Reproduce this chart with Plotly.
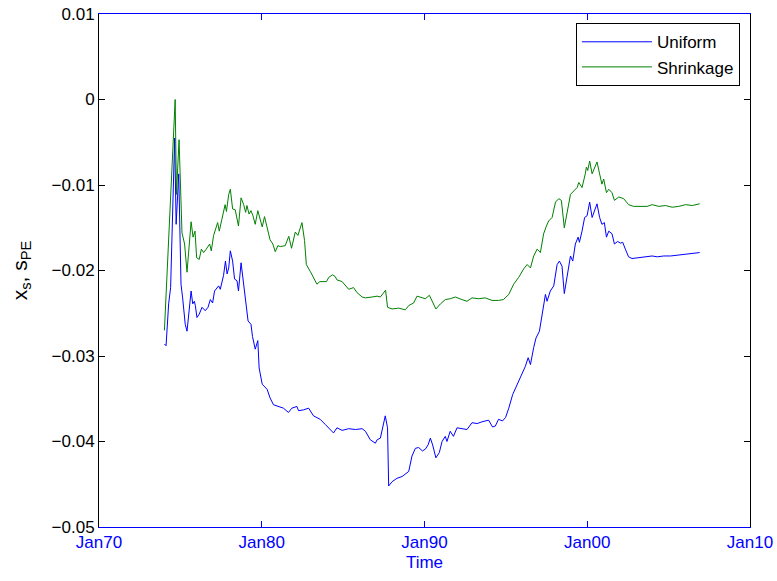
import plotly.graph_objects as go
from datetime import datetime

# Decimal-year dates and values
uniform_years = [
    1974.02, 1974.12, 1974.28, 1974.40, 1974.65, 1974.74, 1974.90, 1975.04, 1975.14, 1975.30,
    1975.41, 1975.51, 1975.66, 1975.76, 1975.86, 1975.92, 1976.02, 1976.16, 1976.33, 1976.53,
    1976.70, 1976.84, 1976.98, 1977.10, 1977.35, 1977.45, 1977.65, 1977.77, 1977.87, 1977.97,
    1978.07, 1978.21, 1978.33, 1978.48, 1978.57, 1978.73, 1978.89, 1979.03, 1979.16, 1979.34,
    1979.43, 1979.60, 1979.76, 1979.84, 1980.03, 1980.33, 1980.51, 1980.72, 1981.03, 1981.33,
    1981.64, 1981.85, 1982.16, 1982.26, 1982.56, 1982.88, 1983.18, 1983.59, 1983.90, 1984.21,
    1984.41, 1984.62, 1984.94, 1985.34, 1985.75, 1986.17, 1986.37, 1986.67, 1986.98, 1987.09,
    1987.29, 1987.59, 1987.73, 1987.80, 1988.01, 1988.31, 1988.62, 1989.03, 1989.23, 1989.44,
    1989.64, 1989.87, 1990.05, 1990.22, 1990.36, 1990.50, 1990.70, 1990.91, 1991.08, 1991.28,
    1991.38, 1991.58, 1991.78, 1992.00, 1992.30, 1992.61, 1992.92, 1993.23, 1993.53, 1993.94,
    1994.18, 1994.35, 1994.55, 1994.79, 1994.98, 1995.18, 1995.42, 1995.69, 1995.96, 1996.20,
    1996.37, 1996.51, 1996.71, 1996.85, 1997.06, 1997.23, 1997.43, 1997.53, 1997.73, 1997.94,
    1998.15, 1998.29, 1998.45, 1998.59, 1998.76, 1998.97, 1999.11, 1999.27, 1999.44, 1999.52,
    1999.68, 1999.84, 1999.99, 2000.15, 2000.30, 2000.44, 2000.60, 2000.76, 2000.90, 2001.05,
    2001.18, 2001.32, 2001.52, 2001.67, 2001.87, 2002.04, 2002.18, 2002.34, 2002.54, 2002.75,
    2003.27, 2003.68, 2003.99, 2004.30, 2004.70, 2005.12, 2005.52, 2005.94, 2006.34, 2006.91,
]
uniform_values = [
    -0.0286, -0.0288, -0.0239, -0.0220, -0.0045, -0.0146, -0.0087, -0.0216, -0.0232, -0.0263,
    -0.0271, -0.0251, -0.0224, -0.0239, -0.0236, -0.0241, -0.0255, -0.0251, -0.0243, -0.0247,
    -0.0243, -0.0234, -0.0238, -0.0224, -0.0218, -0.0222, -0.0206, -0.0189, -0.0204, -0.0197,
    -0.0177, -0.0189, -0.0210, -0.0212, -0.0224, -0.0191, -0.0216, -0.0243, -0.0259, -0.0263,
    -0.0277, -0.0292, -0.0282, -0.0314, -0.0333, -0.0339, -0.0349, -0.0357, -0.0359, -0.0361,
    -0.0366, -0.0361, -0.0359, -0.0364, -0.0363, -0.0361, -0.0370, -0.0374, -0.0380, -0.0386,
    -0.0390, -0.0384, -0.0387, -0.0385, -0.0386, -0.0385, -0.0388, -0.0398, -0.0402, -0.0398,
    -0.0396, -0.0370, -0.0384, -0.0452, -0.0447, -0.0443, -0.0441, -0.0435, -0.0417, -0.0408,
    -0.0407, -0.0411, -0.0409, -0.0404, -0.0396, -0.0404, -0.0419, -0.0413, -0.0400, -0.0394,
    -0.0400, -0.0388, -0.0394, -0.0384, -0.0385, -0.0386, -0.0378, -0.0379, -0.0377, -0.0375,
    -0.0383, -0.0382, -0.0374, -0.0376, -0.0372, -0.0361, -0.0345, -0.0333, -0.0323, -0.0312,
    -0.0302, -0.0310, -0.0290, -0.0279, -0.0271, -0.0251, -0.0228, -0.0236, -0.0224, -0.0218,
    -0.0193, -0.0189, -0.0195, -0.0227, -0.0208, -0.0183, -0.0189, -0.0169, -0.0161, -0.0167,
    -0.0154, -0.0138, -0.0136, -0.0120, -0.0138, -0.0130, -0.0122, -0.0138, -0.0146, -0.0144,
    -0.0161, -0.0154, -0.0157, -0.0169, -0.0166, -0.0168, -0.0167, -0.0175, -0.0184, -0.0186,
    -0.0185, -0.0184, -0.0183, -0.0184, -0.0183, -0.0183, -0.0182, -0.0181, -0.0180, -0.0179,
]

shrinkage_years = [
    1974.02, 1974.68, 1974.76, 1974.92, 1975.10, 1975.26, 1975.41, 1975.66, 1975.78, 1975.90,
    1976.00, 1976.16, 1976.29, 1976.43, 1976.59, 1976.80, 1976.90, 1977.04, 1977.29, 1977.39,
    1977.55, 1977.75, 1977.83, 1977.97, 1978.07, 1978.21, 1978.37, 1978.48, 1978.57, 1978.73,
    1978.89, 1979.01, 1979.09, 1979.22, 1979.34, 1979.46, 1979.60, 1979.76, 1979.91, 1980.03,
    1980.17, 1980.32, 1980.51, 1980.68, 1980.83, 1980.99, 1981.14, 1981.44, 1981.66, 1981.83,
    1982.06, 1982.22, 1982.47, 1982.63, 1982.74, 1982.98, 1983.39, 1983.57, 1983.98, 1984.12,
    1984.35, 1984.51, 1984.62, 1984.94, 1985.14, 1985.34, 1985.64, 1985.86, 1986.17, 1986.37,
    1986.78, 1987.09, 1987.29, 1987.61, 1987.73, 1988.01, 1988.41, 1988.82, 1989.03, 1989.33,
    1989.54, 1989.74, 1989.87, 1990.05, 1990.30, 1990.46, 1990.70, 1990.98, 1991.28, 1991.58,
    1991.90, 1992.30, 1992.61, 1992.92, 1993.32, 1993.73, 1994.15, 1994.55, 1994.85, 1995.18,
    1995.48, 1995.79, 1996.10, 1996.31, 1996.51, 1996.71, 1996.92, 1997.12, 1997.32, 1997.49,
    1997.63, 1997.84, 1998.05, 1998.25, 1998.41, 1998.59, 1998.82, 1998.97, 1999.17, 1999.38,
    1999.48, 1999.68, 1999.88, 1999.95, 2000.03, 2000.15, 2000.30, 2000.44, 2000.60, 2000.76,
    2000.90, 2001.01, 2001.18, 2001.32, 2001.52, 2001.67, 2001.94, 2002.24, 2002.54, 2002.85,
    2003.27, 2003.68, 2003.99, 2004.40, 2004.80, 2005.22, 2005.62, 2006.04, 2006.45, 2006.91,
]
shrinkage_values = [
    -0.0270, 0.0000, -0.0111, -0.0047, -0.0156, -0.0169, -0.0202, -0.0143, -0.0161, -0.0154,
    -0.0185, -0.0187, -0.0175, -0.0179, -0.0175, -0.0169, -0.0177, -0.0159, -0.0144, -0.0154,
    -0.0140, -0.0123, -0.0131, -0.0111, -0.0105, -0.0128, -0.0129, -0.0142, -0.0148, -0.0115,
    -0.0123, -0.0132, -0.0124, -0.0134, -0.0130, -0.0136, -0.0146, -0.0130, -0.0141, -0.0149,
    -0.0137, -0.0150, -0.0164, -0.0169, -0.0178, -0.0171, -0.0172, -0.0171, -0.0160, -0.0174,
    -0.0155, -0.0159, -0.0144, -0.0165, -0.0193, -0.0201, -0.0216, -0.0213, -0.0213, -0.0208,
    -0.0205, -0.0207, -0.0211, -0.0213, -0.0218, -0.0222, -0.0220, -0.0226, -0.0231, -0.0232,
    -0.0231, -0.0230, -0.0231, -0.0223, -0.0243, -0.0245, -0.0244, -0.0246, -0.0241, -0.0238,
    -0.0230, -0.0231, -0.0232, -0.0233, -0.0229, -0.0236, -0.0245, -0.0239, -0.0234, -0.0233,
    -0.0231, -0.0234, -0.0236, -0.0232, -0.0233, -0.0232, -0.0235, -0.0235, -0.0234, -0.0228,
    -0.0216, -0.0208, -0.0198, -0.0193, -0.0197, -0.0183, -0.0175, -0.0179, -0.0157, -0.0148,
    -0.0142, -0.0138, -0.0120, -0.0116, -0.0118, -0.0150, -0.0124, -0.0111, -0.0107, -0.0103,
    -0.0097, -0.0103, -0.0087, -0.0079, -0.0083, -0.0072, -0.0087, -0.0081, -0.0073, -0.0087,
    -0.0099, -0.0093, -0.0109, -0.0105, -0.0109, -0.0118, -0.0114, -0.0116, -0.0123, -0.0125,
    -0.0125, -0.0125, -0.0123, -0.0125, -0.0124, -0.0126, -0.0125, -0.0123, -0.0124, -0.0122,
]

x_tick_years = [1970, 1980, 1990, 2000, 2010]
x_tick_labels = ["Jan70", "Jan80", "Jan90", "Jan00", "Jan10"]
y_tick_values = [-0.05, -0.04, -0.03, -0.02, -0.01, 0, 0.01]
y_tick_labels = ["\u22120.05", "\u22120.04", "\u22120.03", "\u22120.02", "\u22120.01", "0", "0.01"]


def to_date(y):
    yr = int(y)
    start = datetime(yr, 1, 1)
    end = datetime(yr + 1, 1, 1)
    return start + (end - start) * (y - yr)


FONT = "Liberation Sans, Arial, Helvetica, sans-serif"
BLUE = "rgb(0,0,255)"

fig = go.Figure()
fig.add_trace(go.Scatter(
    x=[to_date(y) for y in uniform_years], y=uniform_values,
    mode="lines", name="Uniform", line=dict(color=BLUE, width=1),
))
fig.add_trace(go.Scatter(
    x=[to_date(y) for y in shrinkage_years], y=shrinkage_values,
    mode="lines", name="Shrinkage", line=dict(color="rgb(0,128,0)", width=1),
))

fig.update_layout(
    width=777, height=581,
    margin=dict(l=99, r=27, t=14, b=54),
    paper_bgcolor="white", plot_bgcolor="white",
    font=dict(family=FONT, size=17, color="black"),
    showlegend=True,
    legend=dict(
        x=0.9845, y=0.982, xanchor="right", yanchor="top",
        bgcolor="white", bordercolor="black", borderwidth=1,
        font=dict(family=FONT, size=17, color="black"),
        tracegroupgap=0, itemwidth=70,
    ),
    xaxis=dict(
        type="date", automargin=False,
        range=[to_date(1970), to_date(2010)],
        tickvals=[to_date(y) for y in x_tick_years],
        ticktext=x_tick_labels,
        tickfont=dict(family=FONT, size=17, color=BLUE),
        ticks="inside", ticklen=6, tickcolor=BLUE, tickwidth=1,
        showline=True, linecolor=BLUE, linewidth=1, mirror="ticks",
        showgrid=False, zeroline=False,
        title=dict(text="Time", font=dict(family=FONT, size=17, color=BLUE), standoff=4),
    ),
    yaxis=dict(
        automargin=False,
        range=[-0.05, 0.01],
        tickvals=y_tick_values,
        ticktext=y_tick_labels,
        tickfont=dict(family=FONT, size=17, color="black"),
        ticks="inside", ticklen=6, tickcolor="black", tickwidth=1,
        showline=True, linecolor="black", linewidth=1, mirror="ticks",
        showgrid=False, zeroline=False,
        title=dict(text="x<sub>s</sub>, s<sub>PE</sub>", font=dict(family=FONT, size=21, color="black"), standoff=18),
    ),
)

# remove the default 8px page margin so the figure fills the window exactly
fig.write_html(
    "out.html",
    config={"displayModeBar": False},
    post_script="document.body.style.margin='0';",
)
